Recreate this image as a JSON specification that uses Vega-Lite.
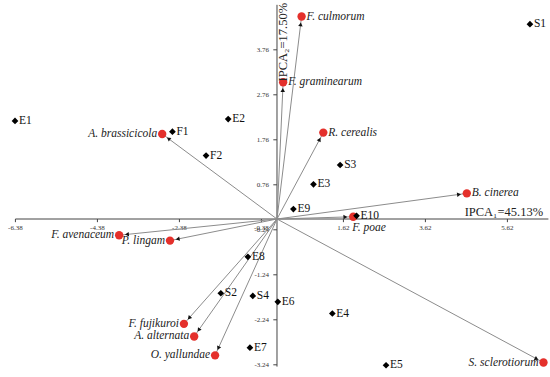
{
  "$schema": "https://vega.github.io/schema/vega-lite/v6.json",
  "width": 550,
  "height": 377,
  "padding": 0,
  "autosize": {"type": "none"},
  "background": "white",
  "config": {"view": {"stroke": null}, "text": {"font": "Liberation Serif"}, "mark": {"font": "Liberation Serif"}},
  "datasets": {
    "env": [
      {"name": "S1", "x": 6.17, "y": 4.33},
      {"name": "E1", "x": -6.39, "y": 2.18},
      {"name": "E2", "x": -1.19, "y": 2.22},
      {"name": "F1", "x": -2.55, "y": 1.94},
      {"name": "F2", "x": -1.73, "y": 1.41},
      {"name": "S3", "x": 1.54, "y": 1.2},
      {"name": "E3", "x": 0.89, "y": 0.77},
      {"name": "E9", "x": 0.4, "y": 0.22},
      {"name": "E10", "x": 1.94, "y": 0.07},
      {"name": "E8", "x": -0.71, "y": -0.84},
      {"name": "S2", "x": -1.37, "y": -1.65},
      {"name": "S4", "x": -0.59, "y": -1.71},
      {"name": "E6", "x": 0.02, "y": -1.84},
      {"name": "E4", "x": 1.35, "y": -2.1},
      {"name": "E7", "x": -0.66, "y": -2.86},
      {"name": "E5", "x": 2.66, "y": -3.25}
    ],
    "species": [
      {"name": "F. culmorum", "x": 0.6, "y": 4.5},
      {"name": "F. graminearum", "x": 0.15, "y": 3.04},
      {"name": "R. cerealis", "x": 1.13, "y": 1.92},
      {"name": "B. cinerea", "x": 4.63, "y": 0.57},
      {"name": "F. poae", "x": 1.86, "y": 0.05},
      {"name": "A. brassicicola", "x": -2.8, "y": 1.89},
      {"name": "F. avenaceum", "x": -3.85, "y": -0.36},
      {"name": "P. lingam", "x": -2.61, "y": -0.48},
      {"name": "F. fujikuroi", "x": -2.27, "y": -2.33},
      {"name": "A. alternata", "x": -2.02, "y": -2.61},
      {"name": "O. yallundae", "x": -1.51, "y": -3.03},
      {"name": "S. sclerotiorum", "x": 6.5, "y": -3.19}
    ],
    "xticks": [
      {"v": -6.38}, {"v": -4.38}, {"v": -2.38}, {"v": -0.38}, {"v": 1.62}, {"v": 3.62}, {"v": 5.62}
    ],
    "yticks": [
      {"v": 3.76}, {"v": 2.76}, {"v": 1.76}, {"v": 0.76}, {"v": -0.24}, {"v": -1.24}, {"v": -2.24}, {"v": -3.24}
    ]
  },
  "layer": [
    {
      "data": {"values": [{}]},
      "mark": {"type": "rule", "color": "#444", "strokeWidth": 1},
      "encoding": {
        "x": {"datum": -6.38, "type": "quantitative", "scale": {"domain": [-6.756, 6.659], "nice": false, "zero": false}, "axis": null},
        "x2": {"datum": 6.62},
        "y": {"datum": 0, "type": "quantitative", "scale": {"domain": [-3.511, 4.867], "nice": false, "zero": false}, "axis": null}
      }
    },
    {
      "data": {"values": [{}]},
      "mark": {"type": "rule", "color": "#444", "strokeWidth": 1},
      "encoding": {
        "x": {"datum": 0, "type": "quantitative", "axis": null},
        "y": {"datum": -3.28, "type": "quantitative", "axis": null},
        "y2": {"datum": 4.76}
      }
    },
    {
      "data": {"name": "xticks"},
      "mark": {"type": "rule", "color": "#444", "strokeWidth": 1},
      "encoding": {
        "x": {"field": "v", "type": "quantitative", "axis": null},
        "y": {"datum": 0, "type": "quantitative", "axis": null},
        "y2": {"datum": -0.07}
      }
    },
    {
      "data": {"name": "xticks"},
      "mark": {"type": "text", "font": "Liberation Serif", "fontSize": 7, "color": "#333", "align": "center", "baseline": "middle", "dy": 9},
      "encoding": {
        "x": {"field": "v", "type": "quantitative", "axis": null},
        "y": {"datum": 0, "type": "quantitative", "axis": null},
        "text": {"field": "v", "type": "nominal"}
      }
    },
    {
      "data": {"name": "yticks"},
      "mark": {"type": "rule", "color": "#444", "strokeWidth": 1},
      "encoding": {
        "y": {"field": "v", "type": "quantitative", "axis": null},
        "x": {"datum": 0, "type": "quantitative", "axis": null},
        "x2": {"datum": -0.09}
      }
    },
    {
      "data": {"name": "yticks"},
      "mark": {"type": "text", "font": "Liberation Serif", "fontSize": 7, "color": "#333", "align": "right", "baseline": "middle", "dx": -8},
      "encoding": {
        "y": {"field": "v", "type": "quantitative", "axis": null},
        "x": {"datum": 0, "type": "quantitative", "axis": null},
        "text": {"field": "v", "type": "nominal"}
      }
    },
    {
      "data": {"name": "species"},
      "mark": {"type": "rule", "color": "#8c8c8c", "strokeWidth": 1},
      "encoding": {
        "x": {"field": "x", "type": "quantitative", "axis": null},
        "y": {"field": "y", "type": "quantitative", "axis": null},
        "x2": {"datum": 0},
        "y2": {"datum": 0}
      }
    },
    {
      "data": {"name": "species"},
      "transform": [
        {"calculate": "atan2(41*datum.x, 45*datum.y)*180/PI", "as": "theta"},
        {"calculate": "sqrt(pow(41*datum.x,2)+pow(45*datum.y,2))", "as": "len"},
        {"calculate": "datum.x*(1-8.5/datum.len)", "as": "ax"},
        {"calculate": "datum.y*(1-8.5/datum.len)", "as": "ay"}
      ],
      "mark": {"type": "point", "shape": "triangle", "filled": true, "color": "#111", "size": 20, "opacity": 1},
      "encoding": {
        "x": {"field": "ax", "type": "quantitative", "axis": null},
        "y": {"field": "ay", "type": "quantitative", "axis": null},
        "angle": {"field": "theta", "type": "quantitative", "scale": null}
      }
    },
    {
      "data": {"name": "species"},
      "mark": {"type": "point", "shape": "circle", "filled": true, "color": "#e4302b", "size": 70, "opacity": 1},
      "encoding": {
        "x": {"field": "x", "type": "quantitative", "axis": null},
        "y": {"field": "y", "type": "quantitative", "axis": null}
      }
    },
    {
      "data": {"name": "species"},
      "transform": [{"filter": {"field": "name", "oneOf": ["F. culmorum", "F. graminearum", "R. cerealis", "B. cinerea"]}}],
      "mark": {"type": "text", "font": "Liberation Serif", "fontSize": 11.5, "fontStyle": "italic", "color": "#222", "align": "left", "baseline": "middle", "dx": 5},
      "encoding": {
        "x": {"field": "x", "type": "quantitative", "axis": null},
        "y": {"field": "y", "type": "quantitative", "axis": null},
        "text": {"field": "name", "type": "nominal"}
      }
    },
    {
      "data": {"name": "species"},
      "transform": [{"filter": {"field": "name", "oneOf": ["A. brassicicola", "F. avenaceum", "P. lingam", "F. fujikuroi", "A. alternata", "O. yallundae", "S. sclerotiorum"]}}],
      "mark": {"type": "text", "font": "Liberation Serif", "fontSize": 11.5, "fontStyle": "italic", "color": "#222", "align": "right", "baseline": "middle", "dx": -5},
      "encoding": {
        "x": {"field": "x", "type": "quantitative", "axis": null},
        "y": {"field": "y", "type": "quantitative", "axis": null},
        "text": {"field": "name", "type": "nominal"}
      }
    },
    {
      "data": {"name": "species"},
      "transform": [{"filter": {"field": "name", "oneOf": ["F. poae"]}}],
      "mark": {"type": "text", "font": "Liberation Serif", "fontSize": 11.5, "fontStyle": "italic", "color": "#222", "align": "left", "baseline": "middle", "dx": -1, "dy": 11},
      "encoding": {
        "x": {"field": "x", "type": "quantitative", "axis": null},
        "y": {"field": "y", "type": "quantitative", "axis": null},
        "text": {"field": "name", "type": "nominal"}
      }
    },
    {
      "data": {"name": "env"},
      "mark": {"type": "point", "shape": "diamond", "filled": true, "color": "#000", "size": 45, "opacity": 1},
      "encoding": {
        "x": {"field": "x", "type": "quantitative", "axis": null},
        "y": {"field": "y", "type": "quantitative", "axis": null}
      }
    },
    {
      "data": {"name": "env"},
      "mark": {"type": "text", "font": "Liberation Serif", "fontSize": 11.5, "color": "#111", "align": "left", "baseline": "middle", "dx": 4},
      "encoding": {
        "x": {"field": "x", "type": "quantitative", "axis": null},
        "y": {"field": "y", "type": "quantitative", "axis": null},
        "text": {"field": "name", "type": "nominal"}
      }
    },
    {
      "data": {"values": [{"t": "IPCA₁=45.13%"}]},
      "mark": {"type": "text", "font": "Liberation Serif", "fontSize": 12.5, "color": "#222", "align": "right", "baseline": "middle"},
      "encoding": {
        "x": {"datum": 6.49, "type": "quantitative", "axis": null},
        "y": {"datum": 0.16, "type": "quantitative", "axis": null},
        "text": {"field": "t", "type": "nominal"}
      }
    },
    {
      "data": {"values": [{"t": "IPCA₂=17.50%"}]},
      "mark": {"type": "text", "font": "Liberation Serif", "fontSize": 12.5, "color": "#222", "align": "center", "baseline": "top", "angle": 270},
      "encoding": {
        "x": {"datum": 0, "type": "quantitative", "axis": null},
        "y": {"datum": 3.93, "type": "quantitative", "axis": null},
        "text": {"field": "t", "type": "nominal"}
      }
    }
  ]
}
